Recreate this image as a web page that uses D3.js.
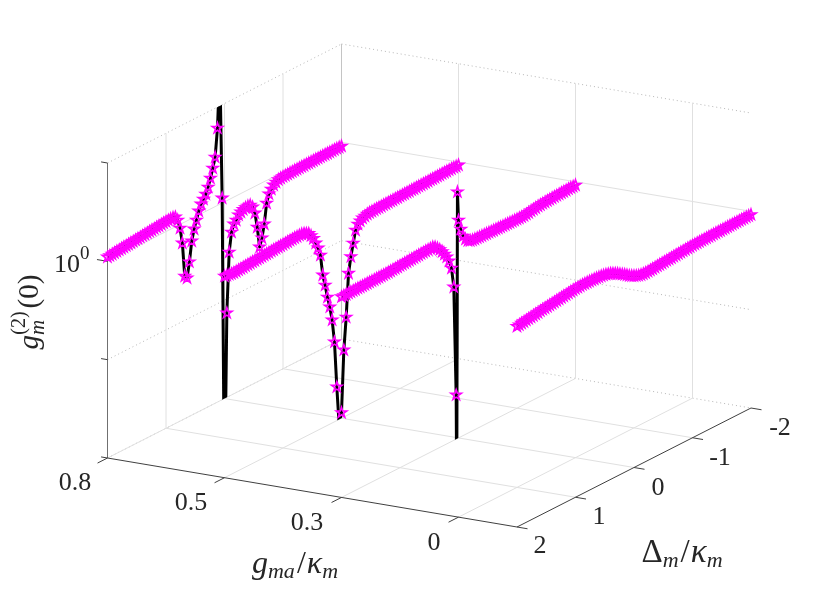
<!DOCTYPE html>
<html>
<head>
<meta charset="utf-8">
<script src="https://cdn.jsdelivr.net/npm/d3@7"></script>
<style>
html,body{margin:0;padding:0;background:#fff}
svg{display:block}
text{font-family:"Liberation Serif",serif;fill:#262626}
</style>
</head>
<body>
<svg id="chart" width="830" height="593"></svg>
<script>
const xTickLabels = ["0.8", "0.5", "0.3", "0"];
const xTickPlanes = [0, 1, 2, 3];
const deltaTicks = [2, 1, 0, -1, -2];
const zTicks = [-2, -1, 0, 1];
const seriesPlanes = [0, 1, 2, 3.5];

const deltaGrid = [
  2.00,1.96,1.92,1.88,1.84,1.80,1.76,1.72,1.68,1.64,
  1.60,1.56,1.52,1.48,1.44,1.40,1.36,1.32,1.28,1.24,
  1.20,1.16,1.12,1.08,1.04,1.00,0.96,0.92,0.88,0.84,
  0.80,0.76,0.72,0.68,0.64,0.60,0.56,0.52,0.48,0.44,
  0.40,0.36,0.32,0.28,0.24,0.20,0.16,0.12,0.08,0.04,
  0.00,-0.04,-0.08,-0.12,-0.16,-0.20,-0.24,-0.28,-0.32,-0.36,
  -0.40,-0.44,-0.48,-0.52,-0.56,-0.60,-0.64,-0.68,-0.72,-0.76,
  -0.80,-0.84,-0.88,-0.92,-0.96,-1.00,-1.04,-1.08,-1.12,-1.16,
  -1.20,-1.24,-1.28,-1.32,-1.36,-1.40,-1.44,-1.48,-1.52,-1.56,
  -1.60,-1.64,-1.68,-1.72,-1.76,-1.80,-1.84,-1.88,-1.92,-1.96,
  -2.00
];
const extraDelta3 = [0.03, 0.018];

// log10 of g_m^(2)(0)
const logG1 = [
  .043,.045,.047,.05,.052,.054,.057,.059,.061,.064,
  .066,.068,.071,.073,.075,.078,.08,.082,.085,.087,
  .089,.092,.094,.096,.099,.101,.103,.105,.105,.099,
  .056,-.038,-.202,-.55,-.582,-.431,-.23,-.12,-.041,.039,
  .098,.136,.175,.234,.313,.403,.503,.785,1.4,.05,
  -3.1,-1.143,-.536,-.345,-.275,-.247,-.207,-.189,-.176,-.168,
  -.165,-.167,-.199,-.272,-.427,-.642,-.562,-.432,-.231,-.151,
  -.113,-.084,-.066,-.053,-.05,-.048,-.047,-.046,-.045,-.045,
  -.044,-.044,-.043,-.043,-.043,-.042,-.042,-.042,-.041,-.041,
  -.041,-.041,-.04,-.04,-.04,-.04,-.04,-.039,-.039,-.039,
  -.039
];
const logG2 = [
  .05,.046,.042,.038,.036,.037,.039,.04,.042,.044,
  .046,.047,.049,.05,.052,.053,.055,.056,.058,.059,
  .061,.062,.064,.065,.067,.068,.07,.071,.073,.074,
  .076,.077,.078,.077,.072,.06,.047,.014,-.026,-.086,
  -.149,-.233,-.448,-.562,-.696,-.809,-.953,-1.189,-1.659,-2.057,
  -1.944,-1.319,-.998,-.563,-.407,-.28,-.16,-.111,-.092,-.074,
  -.066,-.058,-.055,-.054,-.053,-.052,-.052,-.051,-.05,-.05,
  -.049,-.048,-.048,-.047,-.047,-.046,-.045,-.045,-.044,-.044,
  -.043,-.043,-.042,-.041,-.041,-.04,-.04,-.039,-.038,-.038,
  -.037,-.036,-.036,-.035,-.034,-.034,-.033,-.033,-.032,-.032,
  -.031
];
const logG3 = [
  .04,.04,.04,.041,.041,.041,.041,.042,.042,.042,
  .042,.043,.043,.043,.043,.044,.044,.044,.044,.045,
  .046,.047,.049,.05,.051,.053,.054,.056,.057,.058,
  .06,.061,.063,.064,.066,.067,.069,.07,.071,.073,
  .061,.039,.011,-.021,-.059,-.099,-.153,-.237,-.442,-1.552,
  -2.62,.507,
  .214,.111,.027,-.015,-.043,-.055,-.061,-.063,-.064,-.065,
  -.066,-.067,-.068,-.069,-.07,-.071,-.072,-.073,-.074,-.075,
  -.075,-.076,-.077,-.078,-.078,-.079,-.08,-.08,-.079,-.076,
  -.072,-.068,-.064,-.06,-.056,-.054,-.052,-.05,-.048,-.047,
  -.045,-.044,-.043,-.042,-.041,-.04,-.039,-.038,-.036,-.036,
  -.035
];
const logG4 = [
  .04,.043,.047,.05,.054,.057,.061,.064,.068,.071,
  .075,.078,.081,.084,.087,.09,.093,.096,.099,.102,
  .105,.108,.111,.115,.118,.12,.121,.123,.124,.124,
  .124,.123,.122,.121,.12,.118,.116,.112,.108,.101,
  .093,.082,.07,.056,.04,.025,.01,-.007,-.025,-.039,
  -.052,-.062,-.072,-.077,-.08,-.081,-.08,-.079,-.077,-.075,
  -.072,-.07,-.069,-.067,-.065,-.064,-.062,-.06,-.058,-.056,
  -.054,-.053,-.051,-.049,-.047,-.045,-.044,-.044,-.043,-.043,
  -.042,-.042,-.041,-.041,-.04,-.04,-.039,-.039,-.038,-.038,
  -.037,-.037,-.036,-.036,-.036,-.035,-.035,-.035,-.034,-.034,
  -.034
];

const delta3 = deltaGrid.concat(extraDelta3).sort((a, b) => b - a);
const seriesDeltas = [deltaGrid, deltaGrid, delta3, deltaGrid];
const seriesLogG = [logG1, logG2, logG3, logG4];

// orthographic projection of the three axes on the page
const uScale = d3.scaleLinear().domain([0, 3.5]).range([0, 1]);
const vScale = d3.scaleLinear().domain([2, -2]).range([0, 1]);
const wScale = d3.scaleLinear().domain([-2, 1]).range([0, 1]);
function project(k, d, z) {
  const u = uScale(k), v = vScale(d), w = wScale(z);
  return [107.5 + u * 409.5 + v * 234, 458 + u * 69 - v * 119 - w * 295];
}

const svg = d3.select("#chart");
const defs = svg.append("defs");
defs.append("filter").attr("id", "soft")
  .attr("filterUnits", "userSpaceOnUse").attr("x", 0).attr("y", 0).attr("width", 830).attr("height", 593)
  .append("feGaussianBlur").attr("stdDeviation", 0.45);
const root = svg.append("g").attr("filter", "url(#soft)");
root.append("rect").attr("width", 830).attr("height", 593).attr("fill", "#fff");
const grid = root.append("g");
function seg(a, b, stroke, dash, width) {
  const l = grid.append("line")
    .attr("x1", a[0]).attr("y1", a[1]).attr("x2", b[0]).attr("y2", b[1])
    .attr("stroke", stroke).attr("stroke-width", width || 1);
  if (dash) l.attr("stroke-dasharray", dash);
  return l;
}
const GRID = "#e0e0e0", DOT = "#b8b8b8", DOTDASH = "1 3", AX = "#404040";
const kMax = 3.5, dMin = -2, dMax = 2, zMin = -2, zMax = 1;

// wall horizontal grid
zTicks.forEach(z => {
  const s = z === 0 ? GRID : DOT, dash = z === 0 ? null : DOTDASH;
  seg(project(0, dMax, z), project(0, dMin, z), s, dash);
  seg(project(0, dMin, z), project(kMax, dMin, z), s, dash);
});
// wall vertical grid
[1, 0, -1, -2].forEach(d => seg(project(0, d, zMin), project(0, d, zMax), d === -2 ? "#c4c4c4" : GRID));
xTickPlanes.slice(1).forEach(k => seg(project(k, dMin, zMin), project(k, dMin, zMax), GRID));
// floor grid
xTickPlanes.slice(1).forEach(k => seg(project(k, dMax, zMin), project(k, dMin, zMin), GRID));
[1, 0, -1].forEach(d => seg(project(0, d, zMin), project(kMax, d, zMin), GRID));
seg(project(0, dMax, zMin), project(0, dMin, zMin), GRID);

// axes
seg(project(0, dMax, zMin), project(0, dMax, zMax), "#707070");
seg(project(0, dMax, zMin), project(kMax, dMax, zMin), AX);
seg(project(kMax, dMax, zMin), project(kMax, dMin, zMin), AX);

// ticks
xTickPlanes.forEach(k => seg(project(k, dMax, zMin), project(k, dMax + 0.17, zMin), AX));
deltaTicks.forEach(d => seg(project(kMax, d, zMin), project(kMax + 0.09, d, zMin), AX));
zTicks.forEach(z => seg(project(0, dMax, z), project(z === 0 ? -0.09 : -0.055, dMax, z), AX));

// tick labels
const xLabelPos = [[75, 490], [191, 510], [307, 530], [434, 550]];
xTickLabels.forEach((t, i) => root.append("text").attr("x", xLabelPos[i][0]).attr("y", xLabelPos[i][1])
  .attr("text-anchor", "middle").attr("font-size", 26).text(t));
const dLabelPos = [[540, 553], [599, 524], [658, 495], [720, 465], [780, 435]];
deltaTicks.forEach((d, i) => root.append("text").attr("x", dLabelPos[i][0]).attr("y", dLabelPos[i][1])
  .attr("text-anchor", "middle").attr("font-size", 26).text(String(d)));
const zl = root.append("text").attr("x", 54).attr("y", 272).attr("font-size", 26);
zl.append("tspan").text("10");
zl.append("tspan").attr("dy", -13).attr("font-size", 19).text("0");

// axis titles
const xt = root.append("text").attr("x", 295).attr("y", 573).attr("text-anchor", "middle").attr("font-size", 32);
xt.append("tspan").attr("font-style", "italic").text("g");
xt.append("tspan").attr("font-style", "italic").attr("font-size", 22).attr("dy", 5).text("ma");
xt.append("tspan").attr("dy", -5).attr("dx", 2).text("/");
xt.append("tspan").attr("font-style", "italic").attr("dx", 1).text("κ");
xt.append("tspan").attr("font-style", "italic").attr("font-size", 22).attr("dy", 5).text("m");

const dt = root.append("text").attr("x", 682).attr("y", 562).attr("text-anchor", "middle").attr("font-size", 33);
dt.append("tspan").text("Δ");
dt.append("tspan").attr("font-style", "italic").attr("font-size", 22).attr("dy", 5).text("m");
dt.append("tspan").attr("dy", -5).attr("dx", 2).text("/");
dt.append("tspan").attr("font-style", "italic").attr("dx", 1).text("κ");
dt.append("tspan").attr("font-style", "italic").attr("font-size", 22).attr("dy", 5).text("m");

const yt = root.append("text").attr("transform", "translate(38,312) rotate(-90)")
  .attr("text-anchor", "middle").attr("font-size", 29);
yt.append("tspan").attr("font-style", "italic").text("g");
yt.append("tspan").attr("font-style", "italic").attr("font-size", 21).attr("dy", 6).text("m");
yt.append("tspan").attr("font-size", 20).attr("dy", -19).attr("dx", -15).text("(2)");
yt.append("tspan").attr("dy", 13).attr("dx", 3).text("(0)");

// series
const star = d3.symbol().type(d3.symbolStar).size(34);
seriesPlanes.forEach((k, si) => {
  const ds = seriesDeltas[si], vs = seriesLogG[si];
  const pts = ds.map((d, i) => ({d, z: vs[i]}));
  const cid = "clip" + si;
  const corners = [project(k, dMax, zMin), project(k, dMin, zMin), project(k, dMin, zMax), project(k, dMax, zMax)];
  defs.append("clipPath").attr("id", cid).append("polygon").attr("points", corners.map(c => c.join(",")).join(" "));
  const line = d3.line().x(p => project(k, p.d, p.z)[0]).y(p => project(k, p.d, p.z)[1]);
  root.append("path").datum(pts).attr("clip-path", `url(#${cid})`)
    .attr("d", line).attr("fill", "none").attr("stroke", "#000").attr("stroke-width", 3).attr("stroke-linejoin", "round");
  root.append("g").selectAll("path").data(pts.filter(p => p.z >= zMin && p.z <= zMax)).join("path")
    .attr("d", star)
    .attr("transform", p => { const q = project(k, p.d, p.z); return `translate(${q[0]},${q[1]})`; })
    .attr("fill", "none").attr("stroke", "#ff00ff").attr("stroke-width", 1.6).attr("stroke-linejoin", "miter");
});
</script>
</body>
</html>
